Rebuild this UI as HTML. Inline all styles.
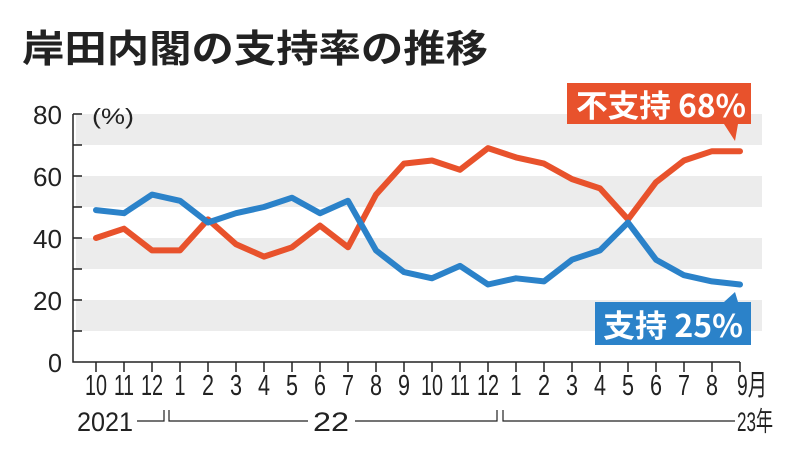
<!DOCTYPE html>
<html><head><meta charset="utf-8"><style>
body{margin:0;background:#fff;}
svg{display:block;font-family:"Liberation Sans","Noto Sans CJK JP",sans-serif;}
</style></head><body>
<svg width="800" height="462" viewBox="0 0 800 462">
<rect width="800" height="462" fill="#fff"/>
<text x="22" y="62" font-size="38" font-weight="bold" fill="#222" textLength="466" lengthAdjust="spacingAndGlyphs" font-family="'Noto Sans CJK JP',sans-serif">岸田内閣の支持率の推移</text>
<g fill="#ececec">
<rect x="76" y="114" width="686" height="31"/>
<rect x="76" y="176" width="686" height="31"/>
<rect x="76" y="238" width="686" height="31"/>
<rect x="76" y="300" width="686" height="31"/>
</g>
<g stroke="#222" stroke-width="1.5" fill="none">
<path d="M73 114V362H740"/>
<path d="M73 114h9M73 145h9M73 176h9M73 207h9M73 238h9M73 269h9M73 300h9M73 331h9"/>
<path d="M96 362v10M124 362v10M152 362v10M180 362v10M208 362v10M236 362v10M264 362v10M292 362v10M320 362v10M348 362v10M376 362v10M404 362v10M432 362v10M460 362v10M488 362v10M516 362v10M544 362v10M572 362v10M600 362v10M628 362v10M656 362v10M684 362v10M712 362v10M740 362v10"/>
<path d="M137 421H164V410M169 410V421H308M355 421H497V410M503 410V421H735" stroke-width="1.2"/>
</g>
<g font-size="26" fill="#222" text-anchor="end">
<text x="62" y="124" textLength="29" lengthAdjust="spacingAndGlyphs">80</text><text x="62" y="186" textLength="29" lengthAdjust="spacingAndGlyphs">60</text><text x="62" y="248" textLength="29" lengthAdjust="spacingAndGlyphs">40</text><text x="62" y="310" textLength="29" lengthAdjust="spacingAndGlyphs">20</text><text x="62" y="372" textLength="14" lengthAdjust="spacingAndGlyphs">0</text>
</g>
<text x="92" y="124" font-size="22" fill="#222" textLength="42" lengthAdjust="spacingAndGlyphs">(%)</text>
<g font-size="29" fill="#222" text-anchor="middle">
<text x="96" y="395" textLength="22" lengthAdjust="spacingAndGlyphs">10</text><text x="124" y="395" textLength="20" lengthAdjust="spacingAndGlyphs">11</text><text x="152" y="395" textLength="22" lengthAdjust="spacingAndGlyphs">12</text>
<text x="180" y="395" textLength="11" lengthAdjust="spacingAndGlyphs">1</text><text x="208" y="395" textLength="12" lengthAdjust="spacingAndGlyphs">2</text><text x="236" y="395" textLength="12" lengthAdjust="spacingAndGlyphs">3</text><text x="264" y="395" textLength="12" lengthAdjust="spacingAndGlyphs">4</text><text x="292" y="395" textLength="12" lengthAdjust="spacingAndGlyphs">5</text><text x="320" y="395" textLength="12" lengthAdjust="spacingAndGlyphs">6</text><text x="348" y="395" textLength="12" lengthAdjust="spacingAndGlyphs">7</text><text x="376" y="395" textLength="12" lengthAdjust="spacingAndGlyphs">8</text><text x="404" y="395" textLength="12" lengthAdjust="spacingAndGlyphs">9</text>
<text x="432" y="395" textLength="22" lengthAdjust="spacingAndGlyphs">10</text><text x="460" y="395" textLength="20" lengthAdjust="spacingAndGlyphs">11</text><text x="488" y="395" textLength="22" lengthAdjust="spacingAndGlyphs">12</text>
<text x="516" y="395" textLength="11" lengthAdjust="spacingAndGlyphs">1</text><text x="544" y="395" textLength="12" lengthAdjust="spacingAndGlyphs">2</text><text x="572" y="395" textLength="12" lengthAdjust="spacingAndGlyphs">3</text><text x="600" y="395" textLength="12" lengthAdjust="spacingAndGlyphs">4</text><text x="628" y="395" textLength="12" lengthAdjust="spacingAndGlyphs">5</text><text x="656" y="395" textLength="12" lengthAdjust="spacingAndGlyphs">6</text><text x="684" y="395" textLength="12" lengthAdjust="spacingAndGlyphs">7</text><text x="712" y="395" textLength="12" lengthAdjust="spacingAndGlyphs">8</text><text x="752" y="395" textLength="30" lengthAdjust="spacingAndGlyphs">9月</text>
</g>
<g font-size="27" fill="#222">
<text x="77" y="431" textLength="56" lengthAdjust="spacingAndGlyphs">2021</text><text x="313" y="431" textLength="36" lengthAdjust="spacingAndGlyphs">22</text><text x="737" y="431" textLength="36" lengthAdjust="spacingAndGlyphs">23年</text>
</g>
<g fill="none" stroke-width="6" stroke-linejoin="round" stroke-linecap="round">
<polyline stroke="#e8522c" points="96,238 124,228.7 152,250.4 180,250.4 208,219.4 236,244.2 264,256.6 292,247.3 320,225.6 348,247.3 376,194.6 404,163.6 432,160.5 460,169.8 488,148.1 516,157.4 544,163.6 572,179.1 600,188.4 628,219.4 656,182.2 684,160.5 712,151.2 740,151.2"/>
<polyline stroke="#2b82c9" points="96,210.1 124,213.2 152,194.6 180,200.8 208,222.5 236,213.2 264,207 292,197.7 320,213.2 348,200.8 376,250.4 404,272.1 432,278.3 460,265.9 488,284.5 516,278.3 544,281.4 572,259.7 600,250.4 628,222.5 656,259.7 684,275.2 712,281.4 740,284.5"/>
</g>
<path d="M567 83H751V124H738L735 141L724 124H567Z" fill="#e8522c"/>
<text x="576" y="117" font-size="31" font-weight="bold" fill="#fff" textLength="170" lengthAdjust="spacingAndGlyphs" font-family="'Noto Sans CJK JP',sans-serif">不支持 68%</text>
<path d="M595 302H724L735 292L738 302H751V345H595Z" fill="#2b82c9"/>
<text x="603" y="337" font-size="31" font-weight="bold" fill="#fff" textLength="140" lengthAdjust="spacingAndGlyphs" font-family="'Noto Sans CJK JP',sans-serif">支持 25%</text>
</svg>
</body></html>
